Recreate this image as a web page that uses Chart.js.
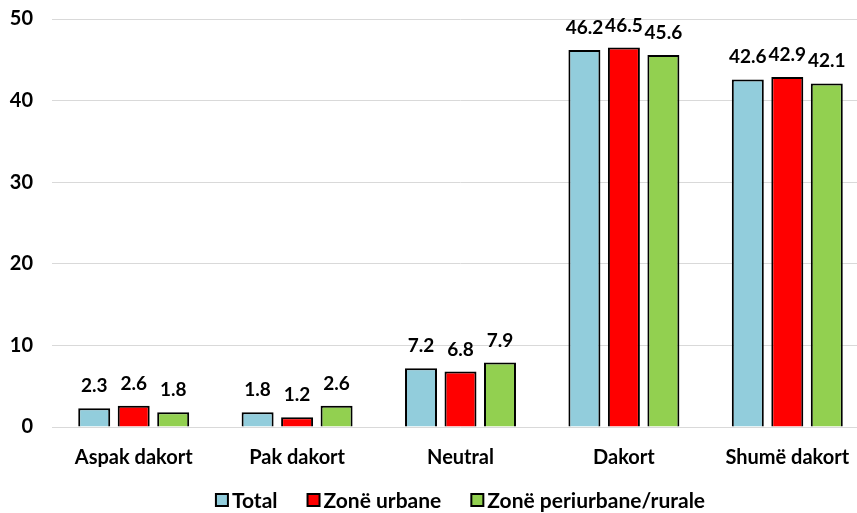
<!DOCTYPE html>
<html>
<head>
<meta charset="utf-8">
<script src="https://cdn.jsdelivr.net/npm/chart.js@4/dist/chart.umd.min.js"></script>
<style>
	html, body { margin: 0; padding: 0; background: #fff; overflow: hidden; }
	#wrap { width: 857px; height: 513px; overflow: hidden; }
	canvas { display: block; }
</style>
</head>
<body>
<div id="wrap"><canvas id="chart" width="870" height="513"></canvas></div>
<script>
const categories = ['Aspak dakort', 'Pak dakort', 'Neutral', 'Dakort', 'Shumë dakort'];
const totalValues = [2.3, 1.8, 7.2, 46.2, 42.6];
const urbanValues = [2.6, 1.2, 6.8, 46.5, 42.9];
const ruralValues = [1.8, 2.6, 7.9, 45.6, 42.1];
const seriesNames = ['Total', 'Zonë urbane', 'Zonë periurbane/rurale'];
const yTicks = [0, 10, 20, 30, 40, 50];

const fontFamily = 'Lato, "Open Sans", sans-serif';
const labelFont = { family: fontFamily, size: 20, weight: 'bold' };

// Draw the value above each bar.
const valueLabels = {
	id: 'valueLabels',
	afterDatasetsDraw( chart ) {
		const ctx = chart.ctx;
		ctx.save();
		ctx.font = 'bold 19px ' + fontFamily;
		ctx.fillStyle = '#000';
		ctx.textAlign = 'center';
		ctx.textBaseline = 'alphabetic';
		chart.data.datasets.forEach( ( ds, i ) => {
			chart.getDatasetMeta( i ).data.forEach( ( bar, j ) => {
				ctx.fillText( ds.data[j].toFixed( 1 ), bar.x, bar.y - 16 );
			} );
		} );
		ctx.restore();
	}
};

// Legend drawn by hand, centred under the plot area.
const bottomLegend = {
	id: 'bottomLegend',
	afterDraw( chart ) {
		const ctx = chart.ctx;
		const box = 12, gap = 4, spacing = 30;
		const y = 500;
		ctx.save();
		ctx.font = 'bold 21px ' + fontFamily;
		ctx.textBaseline = 'middle';
		ctx.textAlign = 'left';
		const items = chart.data.datasets.map( ds => ( { ds, w: ctx.measureText( ds.label ).width } ) );
		const total = items.reduce( ( s, it ) => s + box + gap + it.w, 0 ) + spacing * ( items.length - 1 );
		let x = ( chart.chartArea.left + chart.chartArea.right ) / 2 - total / 2;
		items.forEach( it => {
			ctx.fillStyle = it.ds.backgroundColor;
			ctx.fillRect( x, y - box / 2, box, box );
			ctx.lineWidth = 2;
			ctx.strokeStyle = '#000';
			ctx.strokeRect( x, y - box / 2, box, box );
			ctx.fillStyle = '#000';
			ctx.fillText( it.ds.label, x + box + gap, y + 1 );
			x += box + gap + it.w + spacing;
		} );
		ctx.restore();
	}
};

new Chart( document.getElementById( 'chart' ), {
	type: 'bar',
	data: {
		labels: categories,
		datasets: [
			{ label: seriesNames[0], data: totalValues, backgroundColor: '#92CDDC' },
			{ label: seriesNames[1], data: urbanValues, backgroundColor: '#FF0000' },
			{ label: seriesNames[2], data: ruralValues, backgroundColor: '#92D050' }
		].map( d => ( { ...d, borderColor: '#000', borderWidth: 2, borderSkipped: 'bottom' } ) )
	},
	options: {
		responsive: false,
		animation: false,
		categoryPercentage: 0.725,
		barPercentage: 0.81,
		layout: { padding: { top: 19, right: 1, left: 0, bottom: 46 } },
		scales: {
			y: {
				min: 0,
				max: 50,
				afterBuildTicks: axis => { axis.ticks = yTicks.map( v => ( { value: v } ) ); },
				afterFit: axis => {
					axis.width = 52;
					axis.paddingTop = 0;
					axis.paddingBottom = 0;
				},
				border: { display: false },
				grid: { color: '#d9d9d9', lineWidth: 1, drawTicks: false },
				ticks: { padding: 19, color: '#000', font: labelFont }
			},
			x: {
				clip: false,
				afterFit: axis => {
					axis.height = 40;
					axis.paddingLeft = 0;
					axis.paddingRight = 0;
				},
				border: { display: false },
				grid: { display: false },
				ticks: { padding: 11, color: '#000', font: labelFont }
			}
		},
		plugins: {
			legend: { display: false },
			tooltip: { enabled: false }
		}
	},
	plugins: [ valueLabels, bottomLegend ]
} );
</script>
</body>
</html>
